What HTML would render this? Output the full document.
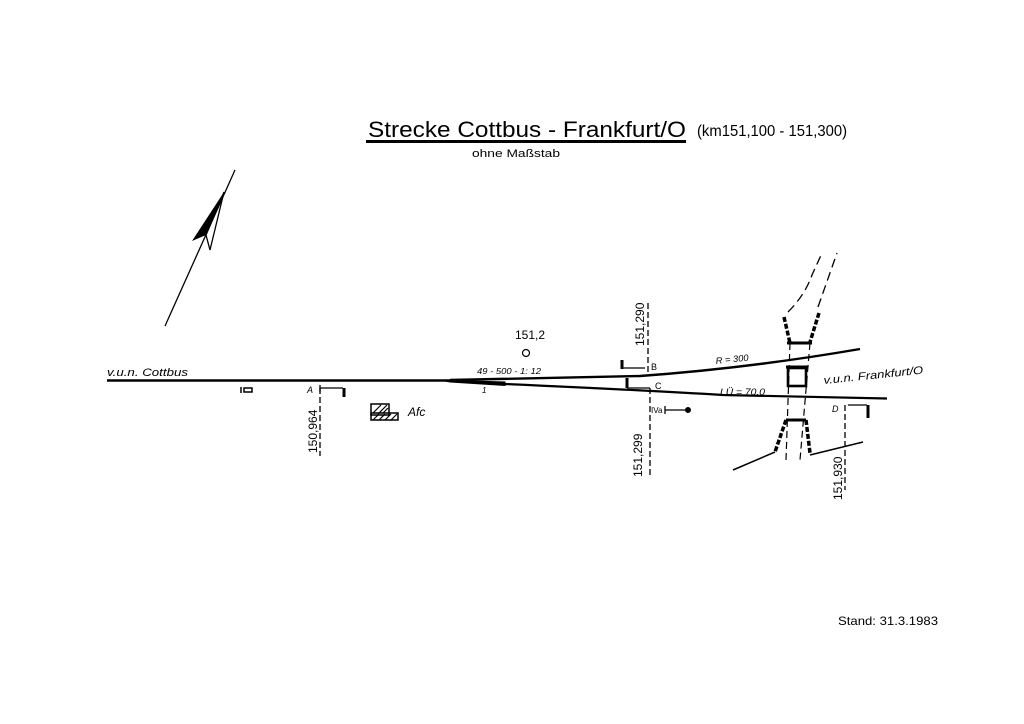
<!DOCTYPE html>
<html><head><meta charset="utf-8"><style>
html,body{margin:0;padding:0;background:#fff;}
svg{display:block;}
text{font-family:"Liberation Sans",sans-serif;fill:#000;}
</style></head><body>
<svg width="1024" height="724" viewBox="0 0 1024 724" xmlns="http://www.w3.org/2000/svg">
<rect width="1024" height="724" fill="#fff"/>
<!-- title -->
<text x="368" y="137" font-size="22" textLength="318" lengthAdjust="spacingAndGlyphs">Strecke  Cottbus - Frankfurt/O</text>
<text x="697" y="136" font-size="16" textLength="150" lengthAdjust="spacingAndGlyphs">(km151,100 - 151,300)</text>
<line x1="366" y1="141.5" x2="686" y2="141.5" stroke="#000" stroke-width="3"/>
<text x="472" y="157" font-size="11" textLength="88" lengthAdjust="spacingAndGlyphs">ohne Maßstab</text>
<text x="838" y="625" font-size="12" textLength="100" lengthAdjust="spacingAndGlyphs">Stand:  31.3.1983</text>
<!-- north arrow -->
<line x1="165" y1="326" x2="235" y2="170" stroke="#000" stroke-width="1.3"/>
<polygon points="224,192 192,241 206,235" fill="#000"/>
<polygon points="224,192 210,250 206,235" fill="none" stroke="#000" stroke-width="1.3"/>
<g fill="none" stroke="#000">
<!-- main track -->
<line x1="107" y1="380.5" x2="450" y2="380.5" stroke-width="2.6"/>
<path d="M450 380 Q560 378 640 376 Q750 368 860 349" stroke-width="2.4"/>
<path d="M450 381 L505 384 Q640 390 723 395 L887 398.5" stroke-width="2.2"/>
<polygon points="440,380 505,382 505,385.5 450,382" fill="#000" stroke-width="1"/>
<!-- signal A -->
<line x1="320" y1="388" x2="320" y2="456" stroke-width="1.3" stroke-dasharray="6,3"/>
<polyline points="320,388 343,388" stroke-width="1.3"/>
<line x1="344" y1="388" x2="344" y2="397" stroke-width="3"/>
<line x1="320" y1="385" x2="320" y2="392" stroke-width="1.3"/>
<!-- signal icon -->
<rect x="244" y="388" width="8" height="4" stroke-width="1.5"/>
<line x1="241" y1="387" x2="241" y2="393" stroke-width="1.5"/>
<!-- Afc building -->
<rect x="371" y="404" width="18" height="11" stroke-width="1.5"/>
<rect x="371" y="413" width="27" height="7" stroke-width="1.5"/>
<path d="M373 413l8-8M378 414l9-9M383 413l5-5M373 420l6-6M379 420l6-6M385 420l6-6M391 420l6-6" stroke-width="1.2"/>
<!-- B -->
<line x1="648" y1="303" x2="648" y2="375" stroke-width="1.3" stroke-dasharray="6,3"/>
<line x1="622" y1="360" x2="622" y2="369" stroke-width="3"/>
<line x1="622" y1="368" x2="645" y2="368" stroke-width="1.3"/>
<!-- C -->
<line x1="650" y1="388" x2="650" y2="478" stroke-width="1.3" stroke-dasharray="6,3"/>
<line x1="627" y1="378" x2="627" y2="388" stroke-width="3"/>
<line x1="627" y1="388" x2="650" y2="388" stroke-width="1.3"/>
<line x1="665" y1="410" x2="686" y2="410" stroke-width="1.3"/>
<line x1="665" y1="406" x2="665" y2="414" stroke-width="1.3"/>
<circle cx="688" cy="410" r="2.5" fill="#000"/>
<circle cx="526" cy="353" r="3.5" stroke-width="1.2"/>
<!-- D -->
<line x1="845" y1="405" x2="845" y2="490" stroke-width="1.3" stroke-dasharray="6,3"/>
<line x1="848" y1="405" x2="867" y2="405" stroke-width="1.3"/>
<line x1="868" y1="405" x2="868" y2="418" stroke-width="3"/>
<!-- bridge -->
<line x1="790" y1="343" x2="786" y2="460" stroke-width="1.2" stroke-dasharray="7,4"/>
<line x1="810" y1="343" x2="800" y2="460" stroke-width="1.2" stroke-dasharray="7,4"/>
<path d="M784 317 L790 343 M819 313 L810 342" stroke-width="3.5" stroke-dasharray="5,2"/>
<line x1="787" y1="343" x2="812" y2="343" stroke-width="3"/>
<rect x="788" y="368" width="18" height="18" stroke-width="2.6"/>
<line x1="786" y1="367" x2="808" y2="367" stroke-width="3"/>
<line x1="786" y1="420" x2="806" y2="420" stroke-width="3"/>
<path d="M786 420 L775 452 M806 420 L810 453" stroke-width="3.5" stroke-dasharray="5,2"/>
<line x1="733" y1="470" x2="775" y2="452" stroke-width="1.5"/>
<line x1="810" y1="455" x2="863" y2="442" stroke-width="1.5"/>
<path d="M788 312 Q805 295 812 275 L822 253" stroke-width="1.3" stroke-dasharray="9,5"/>
<line x1="818" y1="307" x2="837" y2="253" stroke-width="1.3" stroke-dasharray="9,5"/>
</g>
<!-- labels -->
<text x="107" y="376" font-size="11" font-style="italic" textLength="81" lengthAdjust="spacingAndGlyphs">v.u.n. Cottbus</text>
<text x="307" y="393" font-size="9" font-style="italic">A</text>
<text x="408" y="416" font-size="12" font-style="italic">Afc</text>
<text x="515" y="339" font-size="12">151,2</text>
<text x="477" y="374" font-size="8" font-style="italic" textLength="64" lengthAdjust="spacingAndGlyphs">49 - 500 - 1: 12</text>
<text x="482" y="393" font-size="8" font-style="italic">1</text>
<text x="651" y="370" font-size="9">B</text>
<text x="655" y="389" font-size="9">C</text>
<text x="651" y="413" font-size="8">IVa</text>
<text x="716" y="364" font-size="9" font-style="italic" transform="rotate(-6 716 364)" textLength="33" lengthAdjust="spacingAndGlyphs">R = 300</text>
<text x="720" y="395" font-size="9" font-style="italic" textLength="45" lengthAdjust="spacingAndGlyphs">LÜ = 70,0</text>
<text x="824" y="384" font-size="11" font-style="italic" transform="rotate(-6 824 384)" textLength="100" lengthAdjust="spacingAndGlyphs">v.u.n. Frankfurt/O</text>
<text x="832" y="412" font-size="9" font-style="italic">D</text>
<text font-size="12" transform="translate(317 453) rotate(-90)">150,964</text>
<text font-size="12" transform="translate(644 346) rotate(-90)">151,290</text>
<text font-size="12" transform="translate(642 477) rotate(-90)">151,299</text>
<text font-size="12" transform="translate(842 500) rotate(-90)">151,930</text>
</svg>
</body></html>
